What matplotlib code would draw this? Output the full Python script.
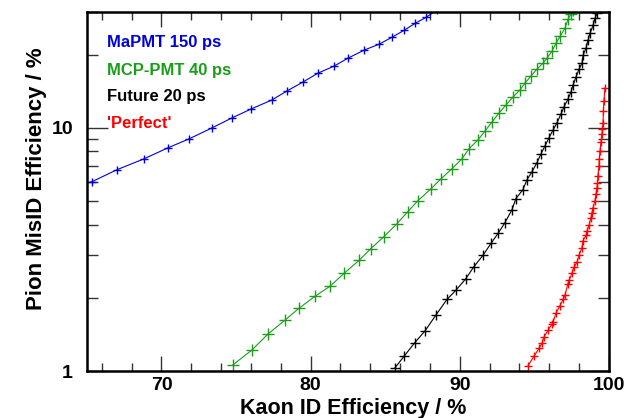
import numpy as np
import matplotlib
matplotlib.use('Agg')
import matplotlib.pyplot as plt
from matplotlib.ticker import FixedLocator, NullFormatter

plt.rcParams['font.family'] = ['Liberation Sans', 'DejaVu Sans']
plt.rcParams['font.weight'] = 'bold'

# MaPMT 150 ps
blue_x = [64.3, 65.34, 67.01, 68.82, 70.43, 71.84, 73.38, 74.72, 76.00, 77.40, 78.41,
          79.48, 80.49, 81.56, 82.50, 83.57, 84.58, 85.45, 86.26, 86.99, 87.73, 88.47]
blue_y = [5.80, 6.01, 6.73, 7.46, 8.28, 9.01, 10.0, 10.99, 11.96, 13.03, 14.19,
          15.44, 16.8, 17.95, 19.36, 20.88, 22.09, 23.6, 25.2, 26.9, 28.5, 30.5]

# MCP-PMT 40 ps
green_x = [74.79, 76.06, 77.14, 78.28, 79.21, 80.29, 81.29, 82.23, 83.24, 84.04, 84.91,
           85.79, 86.52, 87.19, 88.07, 88.74, 89.47, 90.14, 90.61, 91.22, 91.69, 92.16,
           92.63, 93.09, 93.56, 94.03, 94.37, 94.77, 95.17, 95.58, 95.84, 96.18, 96.45,
           96.72, 97.05, 97.25, 97.45, 97.59]
green_y = [1.06, 1.22, 1.42, 1.62, 1.81, 2.03, 2.23, 2.52, 2.85, 3.19, 3.57,
           4.04, 4.53, 5.02, 5.62, 6.18, 6.79, 7.46, 8.20, 8.93, 9.72, 10.58,
           11.52, 12.42, 13.40, 14.32, 15.29, 16.34, 17.46, 18.47, 19.36, 20.69, 22.3,
           23.8, 25.7, 28.0, 29.3, 30.6]

# Future 20 ps
black_x = [85.65, 86.26, 86.99, 87.66, 88.40, 89.14, 89.74, 90.41, 90.95, 91.55, 92.09,
           92.56, 93.03, 93.50, 93.76, 94.23, 94.50, 94.84, 95.17, 95.44, 95.71, 95.98,
           96.25, 96.51, 96.78, 96.98, 97.25, 97.45, 97.59, 97.79, 97.99, 98.19, 98.26,
           98.46, 98.59, 98.73, 98.93, 99.06, 99.20]
black_y = [1.03, 1.15, 1.31, 1.46, 1.70, 1.97, 2.15, 2.40, 2.69, 2.99, 3.35,
           3.68, 4.08, 4.61, 5.12, 5.57, 6.12, 6.60, 7.19, 7.82, 8.44, 9.10,
           9.81, 10.48, 11.41, 12.19, 13.15, 14.05, 15.0, 16.2, 17.46, 18.47, 19.9,
           21.3, 22.9, 24.5, 26.4, 28.2, 29.6]

# 'Perfect'
red_x = [94.57, 94.97, 95.31, 95.51, 95.64, 95.91, 96.18, 96.25, 96.45, 96.72, 96.92,
         97.05, 97.25, 97.32, 97.52, 97.65, 97.85, 97.99, 98.19, 98.26, 98.46, 98.53,
         98.66, 98.79, 98.86, 98.93, 99.06, 99.13, 99.20, 99.23, 99.26, 99.33, 99.35,
         99.40, 99.46, 99.53, 99.56, 99.60, 99.63, 99.66, 99.73]
red_y = [1.05, 1.15, 1.24, 1.30, 1.38, 1.47, 1.56, 1.59, 1.73, 1.86, 1.97,
         2.05, 2.29, 2.36, 2.52, 2.67, 2.80, 2.99, 3.22, 3.44, 3.61, 3.78,
         3.97, 4.28, 4.48, 4.70, 5.02, 5.36, 5.68, 5.95, 6.36, 6.98, 7.46,
         8.05, 8.76, 9.45, 9.91, 10.48, 11.74, 12.9, 14.6]

series = [
    ('MaPMT 150 ps', blue_x, blue_y, '#0000dd', 6),
    ('MCP-PMT 40 ps', green_x, green_y, '#1a9e1a', 9),
    ('Future 20 ps', black_x, black_y, '#000000', 7),
    ("'Perfect'", red_x, red_y, '#ff0000', 6),
]

fig = plt.figure(figsize=(6.39, 4.18), dpi=100)
ax = fig.add_axes([0.136, 0.1124, 0.817, 0.859])

for name, x, y, c, ms in series:
    ax.plot(x, y, '-', color=c, lw=0.8, marker='+', ms=ms, mew=1.0)

ax.set_xscale('linear')
ax.set_yscale('log')
ax.set_xlim(65, 100)
ax.set_ylim(1, 30)

ax.xaxis.set_major_locator(FixedLocator([70, 80, 90, 100]))
ax.xaxis.set_minor_locator(FixedLocator(np.arange(66, 100, 2)))
ax.yaxis.set_major_locator(FixedLocator([1, 10]))
ax.yaxis.set_minor_locator(FixedLocator([2, 3, 4, 5, 6, 7, 8, 9, 20, 30]))
ax.yaxis.set_minor_formatter(NullFormatter())
ax.set_xticklabels(['70', '80', '90', '100'])
ax.set_yticklabels(['1', '10'])

ax.tick_params(which='both', direction='in', top=True, right=True, labelsize=14, width=1.0, color='#333333')
ax.tick_params(axis='x', which='major', length=11, pad=4)
ax.tick_params(axis='x', which='minor', length=6)
ax.tick_params(axis='y', which='major', length=15, pad=10)
ax.tick_params(axis='y', which='minor', length=8)
for s in ax.spines.values():
    s.set_linewidth(1.8)

ax.set_xlabel('Kaon ID Efficiency / %', fontsize=15.5, fontweight='bold', va='center')
ax.set_ylabel('Pion MisID Efficiency / %', fontsize=16, fontweight='bold', va='center')
ax.xaxis.set_label_coords(0.5105, -0.103)
ax.yaxis.set_label_coords(-0.096, 0.535)

for i, (name, x, y, c, ms) in enumerate(series):
    fig.text(107 / 639, 1 - (43 + 27 * i) / 418, name, color=c, fontsize=12,
             fontweight='bold', va='center', ha='left')

fig.savefig('out.png', dpi=100)
